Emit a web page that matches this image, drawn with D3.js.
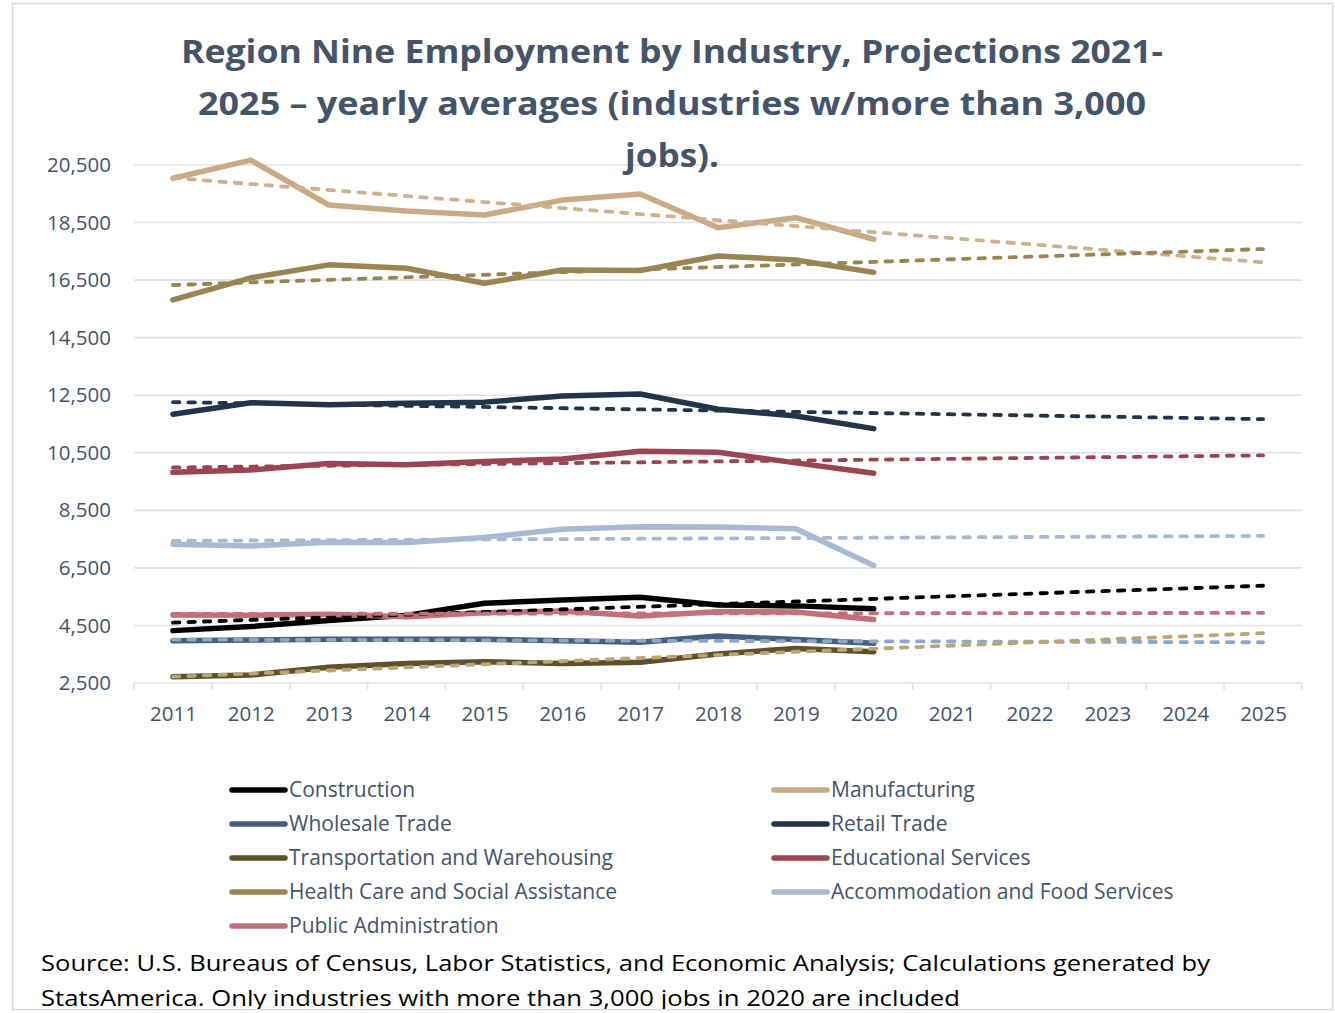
<!DOCTYPE html>
<html>
<head>
<meta charset="utf-8">
<script src="https://cdn.jsdelivr.net/npm/d3@7"></script>
<style>
  body { margin: 0; background: #fff; }
  svg { display: block; }
</style>
</head>
<body>
<div id="chart"></div>
<script>
// categories
const years = ["2011", "2012", "2013", "2014", "2015", "2016", "2017", "2018", "2019", "2020",
               "2021", "2022", "2023", "2024", "2025"];
const histYears = years.slice(0, 10);
const yTicks = [2500, 4500, 6500, 8500, 10500, 12500, 14500, 16500, 18500, 20500];

// yearly values 2011-2020
const construction   = [4320, 4460, 4670, 4850, 5270, 5380, 5480, 5210, 5180, 5080];
const manufacturing  = [20040, 20670, 19110, 18900, 18760, 19280, 19490, 18320, 18670, 17920];
const wholesale      = [3970, 3990, 4020, 4020, 4020, 3970, 3920, 4130, 4010, 3880];
const retail         = [11840, 12240, 12170, 12220, 12260, 12470, 12540, 12010, 11780, 11340];
const transportation = [2720, 2780, 3050, 3180, 3240, 3180, 3220, 3510, 3700, 3590];
const educational    = [9820, 9900, 10130, 10080, 10200, 10280, 10550, 10520, 10150, 9790];
const healthCare     = [15810, 16580, 17030, 16910, 16390, 16850, 16830, 17340, 17200, 16770];
const accommodation  = [7320, 7260, 7390, 7380, 7560, 7840, 7930, 7920, 7860, 6580];
const publicAdmin    = [4860, 4850, 4890, 4800, 4940, 5000, 4830, 4980, 4970, 4710];

// linear trend lines, value at 2011 and at 2025
const constructionTrend   = [4600, 5880];
const manufacturingTrend  = [20050, 17120];
const wholesaleTrend      = [4010, 3915];
const retailTrend         = [12260, 11670];
const transportationTrend = [2720, 4230];
const educationalTrend    = [9990, 10410];
const healthCareTrend     = [16330, 17580];
const accommodationTrend  = [7440, 7610];
const publicAdminTrend    = [4900, 4935];

const series = [
  {name: "Construction", values: construction, trend: constructionTrend, color: "#000000", trendColor: "#000000"},
  {name: "Manufacturing", values: manufacturing, trend: manufacturingTrend, color: "#c9aa85", trendColor: "#ceb28e"},
  {name: "Wholesale Trade", values: wholesale, trend: wholesaleTrend, color: "#43607f", trendColor: "#8fa6c6"},
  {name: "Retail Trade", values: retail, trend: retailTrend, color: "#22344a", trendColor: "#22344a"},
  {name: "Transportation and Warehousing", values: transportation, trend: transportationTrend, color: "#5f502c", trendColor: "#bba673"},
  {name: "Educational Services", values: educational, trend: educationalTrend, color: "#9c4552", trendColor: "#9c4552"},
  {name: "Health Care and Social Assistance", values: healthCare, trend: healthCareTrend, color: "#9a8451", trendColor: "#9a8451"},
  {name: "Accommodation and Food Services", values: accommodation, trend: accommodationTrend, color: "#a8b9d3", trendColor: "#a8b9d3"},
  {name: "Public Administration", values: publicAdmin, trend: publicAdminTrend, color: "#c4707a", trendColor: "#c4707a"}
];

const titleLines = ["Region Nine Employment by Industry, Projections 2021-",
                    "2025 \u2013 yearly averages (industries w/more than 3,000",
                    "jobs)."];
const sourceLines = ["Source: U.S. Bureaus of Census, Labor Statistics, and Economic Analysis; Calculations generated by",
                     "StatsAmerica. Only industries with more than 3,000 jobs in 2020 are included"];

const width = 1335;
const height = 1013;
const textColor = "#44546a";
const gridColor = "#dde2e9";

const svg = d3.select("#chart").append("svg")
    .attr("width", width)
    .attr("height", height)
    .style("font-family", "'Open Sans', sans-serif");

svg.append("defs").append("clipPath").attr("id", "frameClip")
  .append("rect").attr("x", 12).attr("y", 3).attr("width", 1320).attr("height", 1006);

// outer frame
svg.append("rect")
    .attr("x", 12.5).attr("y", 3.5)
    .attr("width", 1320).attr("height", 1006)
    .attr("fill", "#fff")
    .attr("stroke", "#d9dde3")
    .attr("stroke-width", 1.5);

const x = d3.scalePoint().domain(years).range([134, 1302]).padding(0.5);
const xBand = d3.scaleBand().domain(years).range([134, 1302]);
const y = d3.scaleLinear().domain([2500, 20500]).range([683, 165]);

// grid lines
svg.append("g")
  .selectAll("line")
  .data(yTicks)
  .join("line")
    .attr("x1", 134).attr("x2", 1302)
    .attr("y1", d => y(d)).attr("y2", d => y(d))
    .attr("stroke", gridColor)
    .attr("stroke-width", 1.6);

// y axis labels
const yAxis = svg.append("g")
    .attr("transform", "translate(116,0)")
    .call(d3.axisLeft(y).tickValues(yTicks).tickSize(0).tickPadding(5).tickFormat(d3.format(",")));
yAxis.select(".domain").remove();
yAxis.selectAll("text")
    .attr("fill", textColor)
    .style("font-size", "20.5px")
    .style("font-family", "'Open Sans', sans-serif");

// x axis with ticks at category boundaries
const xAxis = svg.append("g")
    .attr("transform", "translate(0,683)")
    .call(d3.axisBottom(x).tickSize(0).tickPadding(23));
xAxis.select(".domain").remove();
xAxis.selectAll("text")
    .attr("fill", textColor)
    .style("font-size", "20.5px")
    .style("font-family", "'Open Sans', sans-serif");
xAxis.selectAll(".sep")
  .data(years.concat(["end"]))
  .join("line")
    .attr("class", "sep")
    .attr("x1", (d, i) => i < years.length ? xBand(d) : xBand.range()[1])
    .attr("x2", (d, i) => i < years.length ? xBand(d) : xBand.range()[1])
    .attr("y1", 0).attr("y2", 7)
    .attr("stroke", gridColor)
    .attr("stroke-width", 1.6);

// title
svg.append("g")
  .selectAll("text")
  .data(titleLines)
  .join("text")
    .attr("x", 672)
    .attr("y", (d, i) => 63 + i * 52)
    .attr("text-anchor", "middle")
    .attr("fill", textColor)
    .style("font-size", "33px")
    .style("font-weight", "bold")
    .attr("textLength", (d, i) => [982, 948, 94][i])
    .attr("lengthAdjust", "spacingAndGlyphs")
    .text(d => d);

// lines
const line = d3.line()
    .x(d => x(d.year))
    .y(d => y(d.value));

const plot = svg.append("g")
    .attr("fill", "none")
    .attr("stroke-linecap", "round")
    .attr("stroke-linejoin", "round");

plot.selectAll(".series")
  .data(series)
  .join("path")
    .attr("class", "series")
    .attr("stroke", d => d.color)
    .attr("stroke-width", 5.5)
    .attr("d", s => line(histYears.map((yr, i) => ({year: yr, value: s.values[i]}))));

plot.selectAll(".trend")
  .data(series)
  .join("path")
    .attr("class", "trend")
    .attr("stroke", d => d.trendColor)
    .attr("stroke-width", 3.8)
    .attr("stroke-dasharray", "6.5,9")
    .attr("d", s => line([{year: years[0], value: s.trend[0]},
                          {year: years[years.length - 1], value: s.trend[1]}]));

// legend, two columns
const legend = svg.append("g")
  .selectAll("g")
  .data(series)
  .join("g")
    .attr("transform", (d, i) => `translate(${i % 2 === 0 ? 232 : 774},${790 + Math.floor(i / 2) * 34})`);

legend.append("line")
    .attr("x1", 0).attr("x2", 53)
    .attr("stroke", d => d.color)
    .attr("stroke-width", 5.5)
    .attr("stroke-linecap", "round");

legend.append("text")
    .attr("x", 57)
    .attr("dy", "0.35em")
    .attr("fill", textColor)
    .style("font-size", "21px")
    .text(d => d.name);

// source note
svg.append("g")
    .attr("clip-path", "url(#frameClip)")
  .selectAll("text")
  .data(sourceLines)
  .join("text")
    .attr("x", 41)
    .attr("y", (d, i) => 971 + i * 35)
    .attr("fill", "#000")
    .style("font-size", "22.5px")
    .attr("textLength", (d, i) => [1169, 919][i])
    .attr("lengthAdjust", "spacingAndGlyphs")
    .text(d => d);
</script>
</body>
</html>
